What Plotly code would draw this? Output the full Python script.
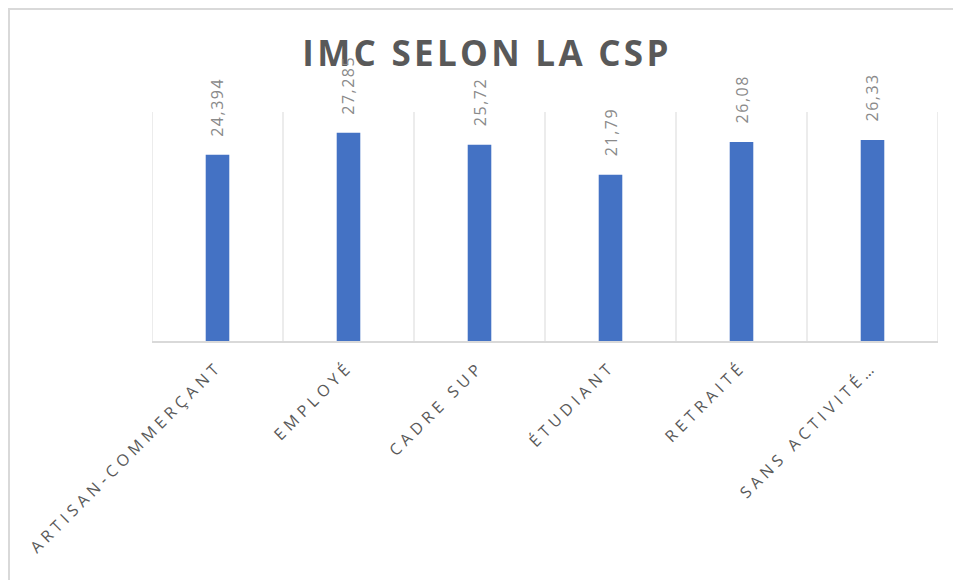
import plotly.graph_objects as go

categories = ["ARTISAN-COMMERÇANT", "EMPLOYÉ", "CADRE SUP", "ÉTUDIANT", "RETRAITÉ", "SANS ACTIVITÉ…"]
values = [24.394, 27.285, 25.72, 21.79, 26.08, 26.33]
value_labels = [str(v).replace(".", ",") for v in values]
title_text = "IMC SELON LA CSP"

W, H = 961, 580
# page body has an 8px margin; figure coordinates = screen - 8
L, T = 144, 104
R = W - 930
B = H - 333
pw, ph = W - L - R, H - T - B

def px(x):
    return (x - L) / pw

def py(y):
    return (H - B - y) / ph

fig = go.Figure()
fig.add_trace(go.Bar(
    x=list(range(len(categories))),
    y=values,
    width=0.18,
    marker=dict(color="#4472C4", line=dict(width=0)),
    hoverinfo="skip",
))

for i, (v, t) in enumerate(zip(values, value_labels)):
    fig.add_annotation(
        x=i, y=v, xref="x", yref="y",
        text='<span style="letter-spacing:1.5px">' + t + '</span>',
        textangle=-90, showarrow=False,
        xanchor="center", yanchor="bottom", yshift=16,
        font=dict(family="Open Sans", size=16, color="#8a8a8a"),
    )

fig.add_shape(type="line", xref="paper", yref="paper",
              x0=px(0), x1=px(W + 2), y0=py(1), y1=py(1),
              line=dict(color="#d9d9d9", width=2), layer="below")
fig.add_shape(type="line", xref="paper", yref="paper",
              x0=px(1), x1=px(1), y0=py(0), y1=py(H + 2),
              line=dict(color="#d9d9d9", width=2), layer="below")

fig.update_layout(
    width=W, height=H,
    margin=dict(l=L, r=R, t=T, b=B, pad=0),
    paper_bgcolor="white", plot_bgcolor="white",
    showlegend=False,
    title=dict(
        text='<span style="letter-spacing:3.3px">' + title_text + '</span>',
        x=479 / W, xref="container", xanchor="center",
        y=1 - 46 / H, yref="container", yanchor="middle",
        font=dict(family="Open Sans", size=35, color="#595959", weight="bold"),
    ),
    xaxis=dict(
        tickmode="array",
        tickvals=list(range(len(categories))),
        ticktext=['<span style="letter-spacing:4.6px">' + c + '</span>' for c in categories],
        range=[-0.5, len(categories) - 0.5],
        tickangle=-45,
        tickfont=dict(family="Open Sans", size=16, color="#595959"),
        showgrid=False,
        showline=True, linecolor="#d9d9d9", linewidth=2,
        ticks="outside", ticklen=8, tickcolor="rgba(0,0,0,0)",
        zeroline=False,
    ),
    yaxis=dict(
        range=[0, 30],
        showgrid=False, showticklabels=False, zeroline=False, showline=False,
        ticks="",
    ),
)

# vertical gridlines at category boundaries
for k in range(len(categories) + 1):
    fig.add_shape(type="line", xref="x", yref="paper",
                  x0=k - 0.5, x1=k - 0.5, y0=0, y1=1,
                  line=dict(color="#d9d9d9", width=1), layer="below")

fig.write_html("out.html")
